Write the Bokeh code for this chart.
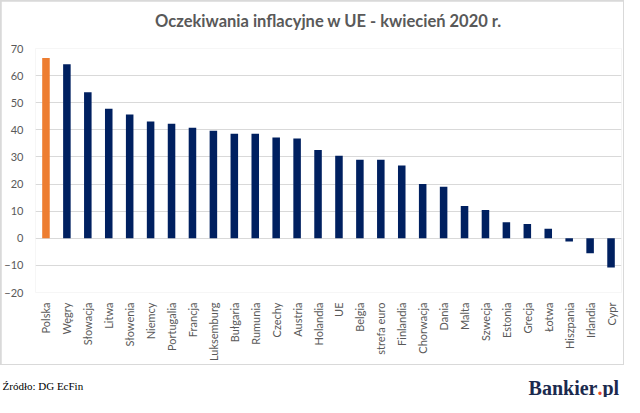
import math
from bokeh.plotting import figure
from bokeh.models import FactorRange, FixedTicker, Title, ColumnDataSource
from bokeh.layouts import column
from bokeh.core.properties import value
from bokeh.embed import file_html
from bokeh.resources import INLINE

categories = ["Polska", "Węgry", "Słowacja", "Litwa", "Słowenia", "Niemcy", "Portugalia",
              "Francja", "Luksemburg", "Bułgaria", "Rumunia", "Czechy", "Austria", "Holandia",
              "UE", "Belgia", "strefa euro", "Finlandia", "Chorwacja", "Dania", "Malta",
              "Szwecja", "Estonia", "Grecja", "Łotwa", "Hiszpania", "Irlandia", "Cypr"]
values = [66.5, 64.2, 53.9, 47.8, 45.7, 43.1, 42.2, 40.8, 39.7, 38.6, 38.6, 37.2, 36.8, 32.6,
          30.4, 29.0, 29.0, 26.8, 20.0, 19.0, 11.9, 10.4, 5.9, 5.3, 3.5, -1.2, -5.5, -10.8]
y_ticks = [-20, -10, 0, 10, 20, 30, 40, 50, 60, 70]
title_text = "Oczekiwania inflacyjne w UE - kwiecień 2020 r."
source_text = "Źródło: DG EcFin"

colors = ["#ED7D31" if c == "Polska" else "#002060" for c in categories]
src = ColumnDataSource(dict(x=categories, top=values, color=colors))

W = 624
H_CHART = 365
H_FOOT = 32

p = figure(width=W - 2, height=H_CHART - 2, output_backend="svg", toolbar_location=None,
           x_range=FactorRange(factors=categories, range_padding=0),
           y_range=(-20, 70))
p.margin = (1, 1, 1, 1)
p.min_border_left = 34
p.min_border_right = 2
p.min_border_top = 47
p.min_border_bottom = 60
p.outline_line_color = None
p.background_fill_color = "white"
p.border_fill_color = "white"

# spacer row between title and plot area (added first, so it sits nearest the frame)
p.add_layout(Title(text=" ", text_font_size="1px"), "above")
p.add_layout(Title(text=title_text, align="center",
                   text_font="Lato", text_font_style="bold", text_font_size="16.5px",
                   text_color="#595959"), "above")

p.vbar(x="x", top="top", bottom=0, width=0.36, fill_color="color", line_color=None, source=src)

p.yaxis.ticker = FixedTicker(ticks=y_ticks)
p.yaxis.axis_line_color = None
p.yaxis.major_tick_line_color = None
p.yaxis.minor_tick_line_color = None
p.yaxis.major_label_text_color = "#595959"
p.yaxis.major_label_text_font = "Lato"
p.yaxis.major_label_text_font_size = "11px"
p.yaxis.major_label_standoff = 6

p.xaxis.axis_line_color = None
p.xaxis.major_tick_line_color = None
p.xaxis.minor_tick_line_color = None
p.xaxis.major_label_orientation = math.pi / 2
p.xaxis.major_label_text_color = "#595959"
p.xaxis.major_label_text_font = "Lato"
p.xaxis.major_label_text_font_size = "11px"
p.xaxis.major_label_standoff = 4

p.xgrid.grid_line_color = None
p.ygrid.grid_line_color = "#D9D9D9"
p.ygrid.grid_line_width = 1

chart_box = column(p, styles={"background-color": "#D9D9D9"}, spacing=0)

# footer
f = figure(width=W, height=H_FOOT, output_backend="svg", toolbar_location=None,
           x_range=(0, W), y_range=(0, H_FOOT), min_border=0)
f.min_border_left = 0
f.min_border_right = 0
f.min_border_top = 0
f.min_border_bottom = 0
f.axis.visible = False
f.grid.visible = False
f.outline_line_color = None
f.background_fill_color = "white"
f.border_fill_color = "white"

f.text(x=[2], y=[12], text=[source_text], text_font=value("Liberation Serif"),
       text_font_size="11px", text_color="#000000", text_align="left",
       text_baseline="alphabetic")

lx, ly = 597, 10
f.text(x=[lx], y=[ly], text=["Bankier"], text_font=value("Liberation Serif"),
       text_font_style="bold", text_font_size="20px", text_color="#1B2A4E",
       text_align="right", text_baseline="alphabetic")
f.text(x=[lx], y=[ly], text=["."], text_font=value("Liberation Serif"),
       text_font_style="bold", text_font_size="20px", text_color="#E8472B",
       text_align="left", text_baseline="alphabetic")
f.text(x=[lx + 5], y=[ly], text=["pl"], text_font=value("Liberation Serif"),
       text_font_style="bold", text_font_size="20px", text_color="#1B2A4E",
       text_align="left", text_baseline="alphabetic")

footer_box = column(f, spacing=0)

layout = column(chart_box, footer_box, spacing=0)
open("out.html", "w").write(file_html(layout, INLINE))
